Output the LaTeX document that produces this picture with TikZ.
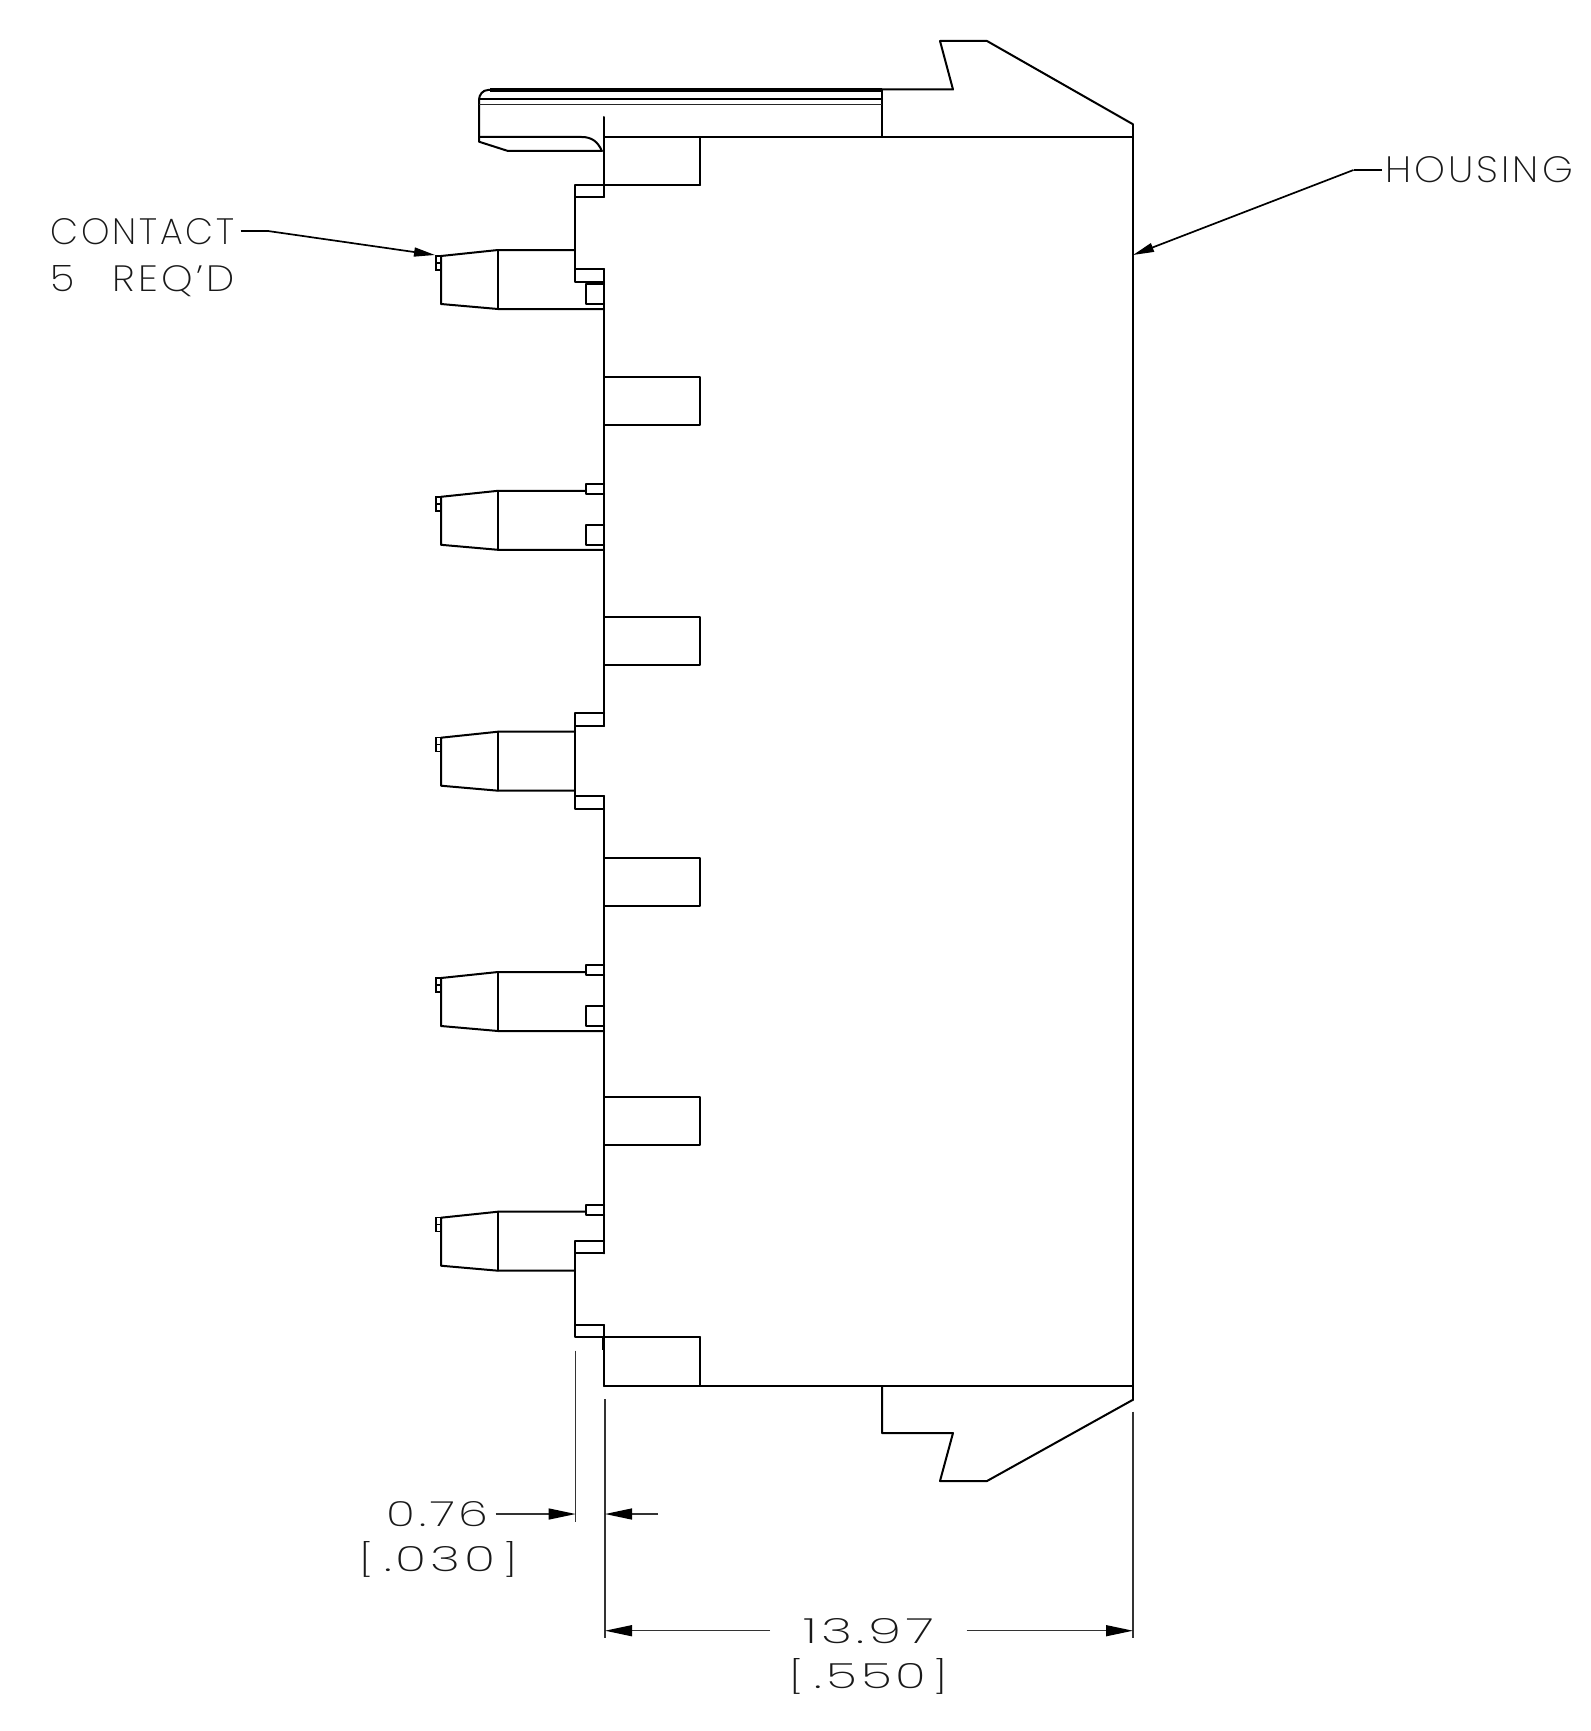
\documentclass[tikz,border=0pt]{standalone}
\usepackage{fontspec}
\usepackage{graphicx}
\usetikzlibrary{arrows.meta}
\newfontfamily\dimfont{Poppins}[UprightFont=* ExtraLight,LetterSpace=8]
\newcommand{\fittext}[3]{\resizebox{#1pt}{#2pt}{\dimfont #3}}
\newcommand{\bracketed}[3]{\fittext{14}{30}{[}\hspace{11pt}\fittext{#1}{25}{#2}\hspace{7pt}\fittext{14}{30}{]}}
\tikzset{
  part/.style={line width=2pt,black,line cap=round,line join=round},
  dimline/.style={line width=1.3pt,black!80},
  leader/.style={line width=1.7pt,black,-{Triangle[length=21pt,width=9pt]}},
  dimarrow/.style={line width=1.3pt,black!80,-{Triangle[length=27pt,width=11pt,fill=black,color=black]}},
  label/.style={inner sep=0pt,outer sep=0pt,anchor=base west,text=black!90}
}
\begin{document}
\begin{tikzpicture}[x=1pt,y=-1pt]
\useasboundingbox[fill=white] (0,0) rectangle (1590,1731);
% housing outline
\draw[part] (604,137) -- (1132.5,137);
\draw[part] (604,1386) -- (1132.5,1386);
\draw[part] (1132.5,124) -- (1132.5,1400);
% top hook
\draw[part] (882,89.5) -- (953,89.5) -- (940,41) -- (987,41) -- (1132.5,124);
\draw[part] (882,89.5) -- (882,137);
% bottom hook
\draw[part] (882,1386) -- (882,1433) -- (953,1433) -- (940,1481) -- (987,1481) -- (1132.5,1400);
% latch
\draw[part] (882,90) -- (488,90) to[out=180,in=90] (479,100) -- (479,141.7) -- (508,151) -- (602,151);
\draw[line width=3.2pt] (490,90) -- (882,90);
\draw[part] (479,99) -- (882,99);
\draw[line width=1.5pt,black!85] (479,104.7) -- (882,104.7);
\draw[part] (479,137) -- (581.7,137) .. controls (592,137) and (598,142) .. (601.7,150.7);
% wall
\draw[part] (604,117) -- (604,197);
\draw[part] (604,269) -- (604,726);
\draw[part] (604,796) -- (604,1253.3);
\draw[part] (604,1325) -- (604,1386);
\draw[line width=2.6pt] (602.8,1337) -- (602.8,1350);
% notches
\draw[part] (700,185) -- (575,185) -- (575,281.7) -- (604,281.7);
\draw[part] (575,197) -- (604,197);
\draw[part] (575,269) -- (604,269);
\draw[part] (604,712.7) -- (575,712.7) -- (575,809.3) -- (604,809.3);
\draw[part] (575,726) -- (604,726);
\draw[part] (575,796) -- (604,796);
\draw[part] (604,1241) -- (575,1241) -- (575,1337.3) -- (700,1337.3);
\draw[part] (575,1253.3) -- (604,1253.3);
\draw[part] (575,1325) -- (604,1325);
% pin boxes
\draw[part] (700,137) -- (700,185);
\foreach \t in {377,617.4,857.6,1097.4}{
  \draw[part] (604,\t) -- (700,\t) -- (700,\t+48) -- (604,\t+48);
}
\draw[part] (700,1337.3) -- (700,1385.7);
% contacts
\foreach \o/\tx/\bx in {0/575/604,240.8/585.7/604,481.7/575/575,722/585.7/604,961.7/585.7/575}{
  \begin{scope}[shift={(0,\o)}]
    \draw[part] (\tx,250) -- (498,250) -- (441,256) -- (441,304) -- (498,309) -- (\bx,309);
    \draw[part] (498,250) -- (498,309);
    \draw[line width=1.5pt] (441,256) -- (436,256) -- (436,270) -- (441,270);
    \draw[line width=1.5pt] (436,263) -- (441,263);
  \end{scope}
}
% square windows and small tabs
\foreach \o in {0,240.8,722}{
  \draw[part] (604,284+\o) -- (585.7,284+\o) -- (585.7,303.7+\o) -- (604,303.7+\o);
}
\foreach \o in {0,481.2,721}{
  \draw[part] (604,484+\o) -- (585.7,484+\o) -- (585.7,494+\o) -- (604,494+\o);
}
% labels
\node[label] (contact) at (50.5,244) {\fittext{184}{26}{CONTACT}};
\node[label] (req) at (50.5,291) {\fittext{184}{26}{5\hspace{0.95em}REQ’D}};
\node[label] (housing) at (1385,183) {\fittext{188}{26}{HOUSING}};
\node[label] (d1) at (386.5,1526.7) {\fittext{102}{25}{0.76}};
\node[label] (d1b) at (359,1571.7) {\bracketed{112}{.030}{}};
\node[label] (d2) at (803,1643) {\fittext{131}{25}{13.97}};
\node[label] (d2b) at (789.6,1688.7) {\bracketed{112}{.550}{}};
% leaders
\coordinate (ctip) at (435,255);
\coordinate (htip) at (1133,255);
\coordinate (cbend) at (268,231);
\coordinate (hbend) at (1353.5,170);
\coordinate (cstart) at (240.7,231);
\coordinate (hstart) at (1382,170);
\draw[line width=1.7pt] (cstart) -- (cbend);
\draw[leader] (cbend) -- (ctip);
\draw[line width=1.7pt] (hstart) -- (hbend);
\draw[leader] (hbend) -- (htip);
% extension lines
\coordinate (e1a) at (575.7,1350.7); \coordinate (e1b) at (575.7,1521.7);
\coordinate (e2a) at (605,1399); \coordinate (e2b) at (605,1638);
\coordinate (e3a) at (1133,1411.7); \coordinate (e3b) at (1133,1638);
\draw[dimline] (e1a) -- (e1b);
\draw[dimline] (e2a) -- (e2b);
\draw[dimline] (e3a) -- (e3b);
% dimension arrows
\coordinate (a1) at (495.7,1514); \coordinate (a1t) at (575.7,1514);
\coordinate (a2) at (658,1514); \coordinate (a2t) at (605,1514);
\coordinate (a3) at (770,1630.7); \coordinate (a3t) at (605,1630.7);
\coordinate (a4) at (966.6,1630.7); \coordinate (a4t) at (1133,1630.7);
\draw[dimarrow] (a1) -- (a1t);
\draw[dimarrow] (a2) -- (a2t);
\draw[dimarrow] (a3) -- (a3t);
\draw[dimarrow] (a4) -- (a4t);
\end{tikzpicture}
\end{document}
